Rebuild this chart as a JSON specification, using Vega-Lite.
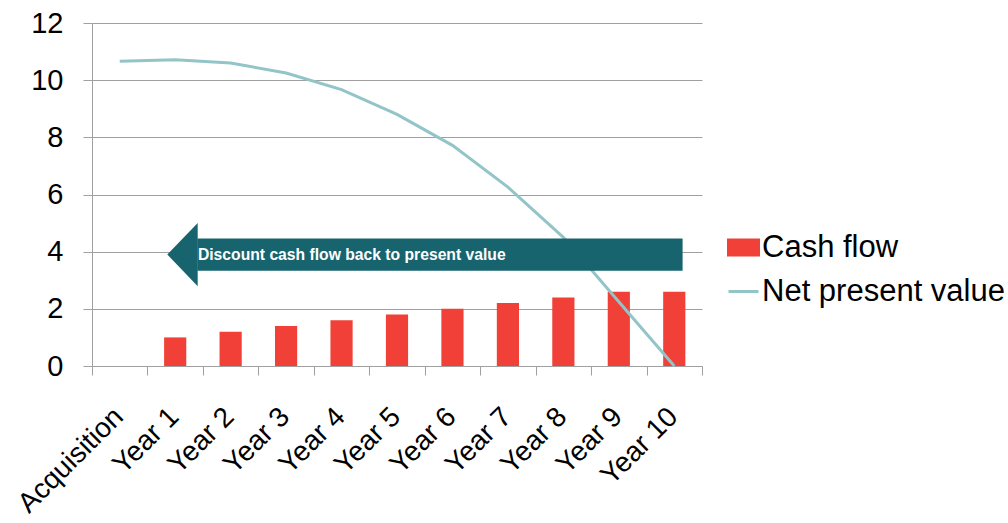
{
  "$schema": "https://vega.github.io/schema/vega-lite/v6.json",
  "autosize": {"type": "none"},
  "width": 610,
  "height": 343,
  "padding": {"left": 92, "top": 23, "right": 306, "bottom": 157},
  "background": "white",
  "config": {
    "view": {"stroke": null},
    "font": "Liberation Sans",
    "axis": {"labelFont": "Liberation Sans", "labelColor": "#000000", "domainColor": "#A0A0A0", "tickColor": "#A0A0A0", "gridColor": "#A0A0A0"}
  },
  "datasets": {
    "main": [
      {"period": "Acquisition", "cash": null, "npv": 10.66},
      {"period": "Year 1", "cash": 1.0, "npv": 10.71},
      {"period": "Year 2", "cash": 1.2, "npv": 10.6},
      {"period": "Year 3", "cash": 1.4, "npv": 10.25},
      {"period": "Year 4", "cash": 1.6, "npv": 9.67},
      {"period": "Year 5", "cash": 1.8, "npv": 8.8},
      {"period": "Year 6", "cash": 2.0, "npv": 7.72},
      {"period": "Year 7", "cash": 2.2, "npv": 6.26},
      {"period": "Year 8", "cash": 2.4, "npv": 4.5},
      {"period": "Year 9", "cash": 2.6, "npv": 2.25},
      {"period": "Year 10", "cash": 2.6, "npv": 0.0}
    ],
    "arrowHead": [
      {"ax": 1.358, "lo": 3.9, "hi": 3.9},
      {"ax": 1.906, "lo": 2.79, "hi": 5.0}
    ],
    "arrowBody": [
      {"x1": 1.9, "x2": 10.65, "y1": 3.33, "y2": 4.46, "label": "Discount cash flow back to present value", "tx": 1.91, "ty": 3.9}
    ]
  },
  "layer": [
    {
      "data": {"name": "main"},
      "layer": [
        {
          "mark": {"type": "bar", "width": {"band": 0.4}, "color": "#F04037"},
          "encoding": {
            "x": {
              "field": "period", "type": "nominal", "sort": null,
              "scale": {"domain": ["Acquisition", "Year 1", "Year 2", "Year 3", "Year 4", "Year 5", "Year 6", "Year 7", "Year 8", "Year 9", "Year 10"], "paddingInner": 0, "paddingOuter": 0},
              "axis": {
                "title": null, "orient": "bottom", "ticks": false, "domain": true, "grid": false,
                "labelAngle": -45, "labelAlign": "right", "labelBaseline": "alphabetic",
                "labelFontSize": 28, "labelPadding": 52, "labelOffset": 5, "labelOverlap": false, "labelBound": false, "labelLimit": 0
              }
            },
            "y": {
              "field": "cash", "type": "quantitative",
              "scale": {"domain": [0, 12], "nice": false},
              "axis": {
                "title": null, "values": [0, 2, 4, 6, 8, 10, 12], "grid": true, "tickSize": 9,
                "labelFontSize": 29, "labelPadding": 20, "domain": true
              }
            },
            "color": {
              "datum": "Cash flow", "type": "nominal",
              "scale": {"domain": ["Cash flow", "Net present value"], "range": ["#F04037", "#93C4C8"]},
              "legend": {
                "title": null, "orient": "none", "legendX": 635, "legendY": 208,
                "labelFontSize": 31, "labelFont": "Liberation Sans", "labelColor": "#000000", "labelLimit": 0,
                "symbolSize": 900, "labelOffset": 2, "rowPadding": 12, "padding": 0,
                "encode": {
                  "symbols": {
                    "update": {
                      "shape": {"signal": "datum.value === 'Cash flow' ? 'M-1,-0.5H1V0.5H-1Z' : 'M-1,0H1'"},
                      "fill": {"signal": "datum.value === 'Cash flow' ? '#F04037' : 'transparent'"},
                      "stroke": {"signal": "datum.value === 'Cash flow' ? 'transparent' : '#93C4C8'"},
                      "strokeWidth": {"value": 3},
                      "opacity": {"value": 1}
                    }
                  }
                }
              }
            }
          }
        },
        {
          "mark": {"type": "line", "strokeWidth": 3, "color": "#93C4C8"},
          "encoding": {
            "x": {"field": "period", "type": "nominal", "sort": null},
            "y": {"field": "npv", "type": "quantitative"},
            "color": {"datum": "Net present value", "type": "nominal"}
          }
        }
      ]
    },
    {
      "layer": [
        {
          "data": {"name": "arrowHead"},
          "mark": {"type": "area", "orient": "vertical", "color": "#17646F", "opacity": 1},
          "encoding": {
            "x": {
              "field": "ax", "type": "quantitative",
              "scale": {"domain": [0, 11], "nice": false, "zero": false},
              "axis": {
                "title": null, "orient": "bottom", "values": [0,1,2,3,4,5,6,7,8,9,10,11],
                "labels": false, "domain": false, "grid": false, "ticks": true, "tickSize": 9, "tickColor": "#A0A0A0"
              }
            },
            "y": {"field": "lo", "type": "quantitative"},
            "y2": {"field": "hi"}
          }
        },
        {
          "data": {"name": "arrowBody"},
          "mark": {"type": "rect", "color": "#17646F"},
          "encoding": {
            "x": {"field": "x1", "type": "quantitative"},
            "x2": {"field": "x2"},
            "y": {"field": "y1", "type": "quantitative"},
            "y2": {"field": "y2"}
          }
        },
        {
          "data": {"name": "arrowBody"},
          "mark": {"type": "text", "color": "#FFFFFF", "fontWeight": "bold", "fontSize": 15.7, "font": "Liberation Sans", "align": "left", "baseline": "middle"},
          "encoding": {
            "x": {"field": "tx", "type": "quantitative"},
            "y": {"field": "ty", "type": "quantitative"},
            "text": {"field": "label"}
          }
        }
      ]
    }
  ],
  "resolve": {"scale": {"x": "independent"}, "axis": {"x": "independent"}}
}
